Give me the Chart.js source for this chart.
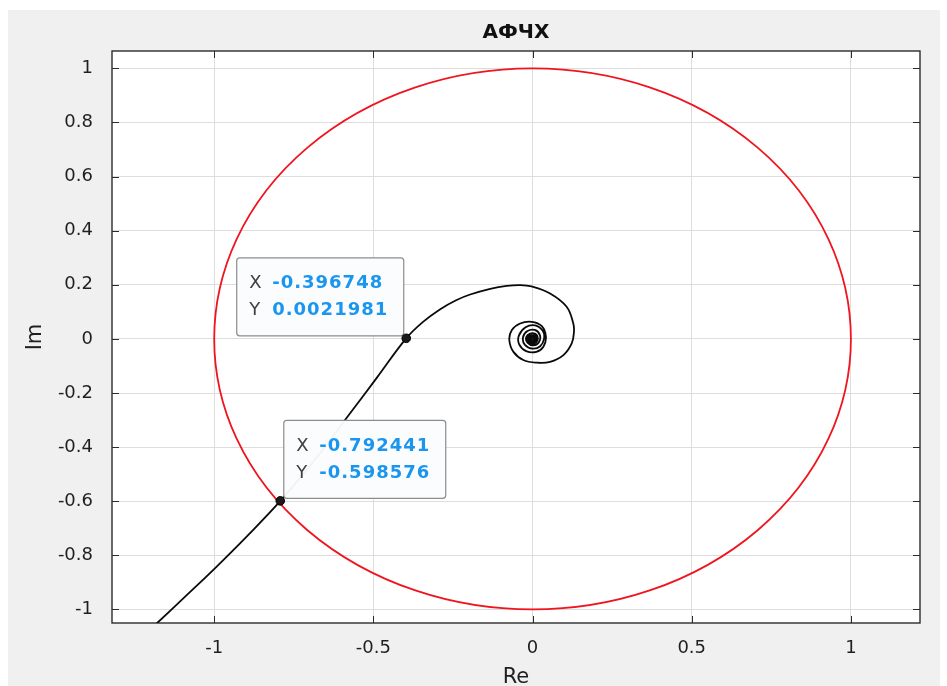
<!DOCTYPE html>
<html>
<head>
<meta charset="utf-8">
<title>АФЧХ</title>
<script src="https://cdn.jsdelivr.net/npm/chart.js@4.4.1/dist/chart.umd.min.js"></script>
<style>
  html, body { margin: 0; padding: 0; background: #fff; }
  #wrap { width: 947px; height: 686px; }
</style>
</head>
<body>
<div id="wrap"><canvas id="afch" width="947" height="686"></canvas></div>
<script>
// ---- данные годографа (Re, Im) ----
const curveRe = [
  -1.233, -1.179, -1.088, -0.997, -0.895, -0.792, -0.690, -0.579, -0.490, -0.397,
  -0.345, -0.290, -0.240, -0.196, -0.133, -0.081, -0.039, -0.003, 0.055, 0.107,
  0.128, 0.130, 0.123, 0.097, 0.055, 0.013, -0.029, -0.060, -0.073, -0.065,
  -0.039, -0.003, 0.029, 0.042, 0.034, 0.012, -0.020, -0.042, -0.043, -0.022,
  0.008, 0.032, 0.036, 0.024, 0.000, -0.024, -0.030, -0.016, 0.007, 0.023,
  0.020, 0.002,
  -0.016, -0.020, -0.008, 0.010, 0.017, 0.010, -0.004,
  -0.014, -0.013, -0.001, 0.011, 0.012, 0.002,
  -0.009, -0.010, -0.001, 0.008, 0.008, 0.001,
  -0.006, -0.007, 0.000, 0.005, 0.005, 0.000,
  -0.004, -0.003, 0.002, 0.003, 0.000, -0.002, 0.000
];
const curveIm = [
  -1.110, -1.050, -0.949, -0.847, -0.727, -0.599, -0.456, -0.284, -0.145, 0.002,
  0.062, 0.110, 0.143, 0.164, 0.185, 0.196, 0.199, 0.194, 0.168, 0.119,
  0.057, 0.026, -0.017, -0.060, -0.085, -0.088, -0.078, -0.048, -0.004, 0.033,
  0.057, 0.063, 0.047, 0.008, -0.029, -0.048, -0.045, -0.020, 0.012, 0.043,
  0.050, 0.030, 0.000, -0.027, -0.036, -0.022, 0.006, 0.029, 0.033, 0.014,
  -0.012, -0.024,
  -0.014, 0.006, 0.020, 0.018, 0.002, -0.014, -0.017,
  -0.006, 0.009, 0.015, 0.008, -0.006, -0.013,
  -0.007, 0.005, 0.011, 0.006, -0.004, -0.009,
  -0.005, 0.003, 0.007, 0.003, -0.003, -0.006,
  -0.002, 0.003, 0.004, 0.000, -0.003, 0.000, 0.000
];

// единичная окружность
const circleCenter = [0, 0];
const circleRadius = 1;

// отмеченные точки (datatips)
const tipRe = [-0.396748, -0.792441];
const tipIm = [0.0021981, -0.598576];

// оси
const xTicks = [-1, -0.5, 0, 0.5, 1];
const yTicks = [-1, -0.8, -0.6, -0.4, -0.2, 0, 0.2, 0.4, 0.6, 0.8, 1];
const xLimits = [-1.321, 1.217];
const yLimits = [-1.05, 1.064];

const TEXT = '#1f1f1f';
const FONT = "'DejaVu Sans', 'Liberation Sans', sans-serif";

// фон окна и белое поле осей
const figureBg = {
  id: 'figureBg',
  beforeDraw(chart) {
    const c = chart.ctx;
    const a = chart.chartArea;
    c.save();
    c.fillStyle = '#ffffff';
    c.fillRect(0, 0, chart.width, chart.height);
    c.fillStyle = '#f0f0f0';
    c.fillRect(8, 10, chart.width - 15, chart.height - 10);
    c.fillStyle = '#ffffff';
    c.fillRect(a.left, a.top, a.right - a.left, a.bottom - a.top);
    c.restore();
  }
};

// рамка осей с засечками внутрь + окружность
const axesBox = {
  id: 'axesBox',
  beforeDatasetsDraw(chart) {
    const c = chart.ctx;
    const a = chart.chartArea;
    const sx = chart.scales.x, sy = chart.scales.y;

    // окружность через шкалы
    const cx = sx.getPixelForValue(circleCenter[0]);
    const cy = sy.getPixelForValue(circleCenter[1]);
    const rx = Math.abs(sx.getPixelForValue(circleCenter[0] + circleRadius) - cx);
    const ry = Math.abs(sy.getPixelForValue(circleCenter[1] + circleRadius) - cy);
    c.save();
    c.beginPath();
    c.rect(a.left, a.top, a.right - a.left, a.bottom - a.top);
    c.clip();
    c.strokeStyle = '#f0141e';
    c.lineWidth = 1.8;
    c.beginPath();
    c.ellipse(cx, cy, rx, ry, 0, 0, Math.PI * 2);
    c.stroke();
    c.restore();

    c.save();
    c.strokeStyle = '#2b2b2b';
    c.lineWidth = 1.4;
    c.strokeRect(a.left, a.top, a.right - a.left, a.bottom - a.top);
    c.lineWidth = 1;
    const tl = 7;
    c.beginPath();
    xTicks.forEach(v => {
      const p = Math.round(sx.getPixelForValue(v)) + 0.5;
      c.moveTo(p, a.bottom); c.lineTo(p, a.bottom - tl);
      c.moveTo(p, a.top); c.lineTo(p, a.top + tl);
    });
    yTicks.forEach(v => {
      const p = Math.round(sy.getPixelForValue(v)) + 0.5;
      c.moveTo(a.left, p); c.lineTo(a.left + tl, p);
      c.moveTo(a.right, p); c.lineTo(a.right - tl, p);
    });
    c.stroke();
    c.restore();
  }
};

// подписи точек X / Y
function drawTip(c, px, py, xs, ys, side) {
  c.letterSpacing = '1px';
  c.font = 'bold 18px ' + FONT;
  const w = Math.max(c.measureText(xs).width, c.measureText(ys).width);
  const bw = 37 + w + 14, bh = 78;
  const bx = side === 'left' ? px - 3 - bw : px + 3;
  const by = py - 3 - bh;

  c.fillStyle = 'rgba(251,252,254,0.96)';
  c.strokeStyle = '#8c8c8c';
  c.lineWidth = 1.2;
  c.beginPath();
  c.roundRect(bx + 0.5, by + 0.5, bw, bh, 3);
  c.fill();
  c.stroke();

  const y1 = by + bh / 2 - 13, y2 = by + bh / 2 + 14;
  c.textBaseline = 'middle';
  c.textAlign = 'left';
  c.font = '18px ' + FONT;
  c.fillStyle = '#404040';
  c.fillText('X', bx + 13, y1);
  c.fillText('Y', bx + 13, y2);
  c.font = 'bold 18px ' + FONT;
  c.fillStyle = '#1a96ef';
  c.fillText(xs, bx + 36, y1);
  c.fillText(ys, bx + 36, y2);
}

const dataTips = {
  id: 'dataTips',
  beforeDatasetDraw(chart, args, opts) {
    if (chart.data.datasets[args.index].label !== 'tips') return;
    const c = chart.ctx;
    const sx = chart.scales.x, sy = chart.scales.y;
    c.save();
    tipRe.forEach((re, i) => {
      drawTip(c, sx.getPixelForValue(re), sy.getPixelForValue(tipIm[i]),
        String(re), String(tipIm[i]), opts.sides[i]);
    });
    c.restore();
  }
};

const curvePoints = curveRe.map((re, i) => ({ x: re, y: curveIm[i] }));
const tipPoints = tipRe.map((re, i) => ({ x: re, y: tipIm[i] }));

new Chart(document.getElementById('afch'), {
  type: 'scatter',
  data: {
    datasets: [
      {
        label: 'tips',
        data: tipPoints,
        order: 1,
        pointRadius: 4.3,
        pointBackgroundColor: '#1a1a1a',
        pointBorderColor: '#000',
        pointBorderWidth: 1,
        showLine: false
      },
      {
        label: 'W(jw)',
        data: curvePoints,
        order: 2,
        showLine: true,
        borderColor: '#0a0a0a',
        borderWidth: 1.8,
        pointRadius: 0,
        tension: 0.4
      }
    ]
  },
  options: {
    responsive: false,
    animation: false,
    events: [],
    layout: { padding: { left: 0, right: 27, top: 0, bottom: 0 } },
    plugins: {
      legend: { display: false },
      tooltip: { enabled: false },
      title: {
        display: true,
        text: 'АФЧХ',
        fullSize: false,
        color: '#111',
        font: { family: FONT, size: 20, weight: 'bold', lineHeight: 1.2 },
        padding: { top: 21, bottom: 6 }
      },
      dataTips: { sides: ['left', 'right'] }
    },
    scales: {
      x: {
        type: 'linear',
        min: xLimits[0],
        max: xLimits[1],
        afterBuildTicks: s => { s.ticks = xTicks.map(v => ({ value: v })); },
        afterFit: s => { s.height = 63; },
        grid: { color: '#dddddd', lineWidth: 1, drawTicks: false },
        border: { display: false },
        ticks: {
          color: TEXT,
          font: { family: FONT, size: 18 },
          padding: 15,
          maxRotation: 0,
          autoSkip: false,
          callback: v => String(v)
        },
        title: {
          display: true,
          text: 'Re',
          color: TEXT,
          font: { family: FONT, size: 21, lineHeight: 1 },
          padding: { top: 0, bottom: -2 }
        }
      },
      y: {
        type: 'linear',
        min: yLimits[0],
        max: yLimits[1],
        afterBuildTicks: s => { s.ticks = yTicks.map(v => ({ value: v })); },
        afterFit: s => { s.width = 112; },
        grid: { color: '#dddddd', lineWidth: 1, drawTicks: false },
        border: { display: false },
        ticks: {
          color: TEXT,
          font: { family: FONT, size: 18 },
          padding: 19,
          autoSkip: false,
          callback: v => String(v)
        },
        title: {
          display: true,
          text: 'Im',
          color: TEXT,
          font: { family: FONT, size: 21, lineHeight: 1 },
          padding: { top: 25, bottom: 0 }
        }
      }
    }
  },
  plugins: [figureBg, axesBox, dataTips]
});
</script>
</body>
</html>
